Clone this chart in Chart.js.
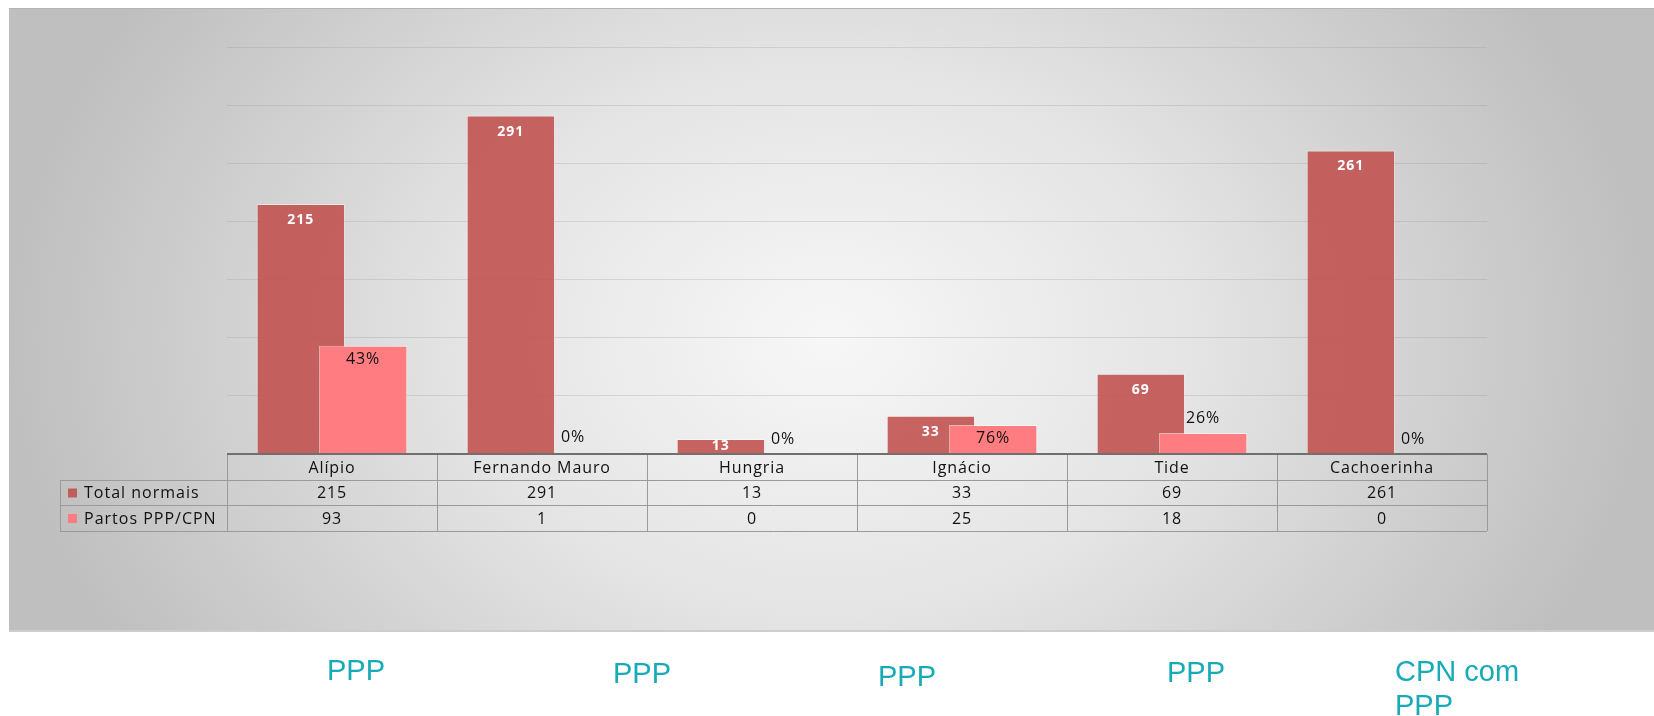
<!DOCTYPE html>
<html>
<head>
<meta charset="utf-8">
<script src="https://cdn.jsdelivr.net/npm/chart.js@4.4.0/dist/chart.umd.min.js"></script>
<style>
  html, body { margin: 0; padding: 0; background: #fff; }
  body { width: 1654px; height: 716px; position: relative; overflow: hidden; }
  #bg {
    position: absolute; left: 9px; top: 8px; width: 1645px; height: 621px;
    border-top: 1px solid #b4b4b4; border-bottom: 2px solid #cdcdcd;
    background: radial-gradient(ellipse 820px 620px at 820px 330px, #f7f7f7 0%, #e4e4e4 45%, #bfbfbf 100%);
  }
  #canvas { position: absolute; left: 0; top: 0; }
  .nota {
    position: absolute; font-family: "Liberation Sans", Arial, sans-serif;
    font-size: 29px; line-height: 34px; color: #17aab7; white-space: nowrap;
  }
</style>
</head>
<body>
<div id="bg"></div>
<canvas id="canvas" width="1654" height="716"></canvas>
<div class="nota" style="left:327px; top:653px;">PPP</div>
<div class="nota" style="left:613px; top:656px;">PPP</div>
<div class="nota" style="left:878px; top:659px;">PPP</div>
<div class="nota" style="left:1167px; top:655px;">PPP</div>
<div class="nota" style="left:1395px; top:654px;">CPN com<br>PPP</div>
<script>
// dados
const unidades = ['Alípio', 'Fernando Mauro', 'Hungria', 'Ignácio', 'Tide', 'Cachoerinha'];
const totalNormais = [215, 291, 13, 33, 69, 261];
const partosPPP = [93, 1, 0, 25, 18, 0];
const nomesSeries = ['Total normais', 'Partos PPP/CPN'];

const corEscura = 'rgba(192, 80, 77, 0.88)';
const corClara = '#ff7c80';
const fonte = '"Open Sans", Lato, sans-serif';

function pct(i) {
    if (!totalNormais[i]) return '0%';
    return Math.round(partosPPP[i] / totalNormais[i] * 100) + '%';
}

// desenha a barra escura primeiro e a rosa por cima
const ordemBarras = {
    id: 'ordemBarras',
    beforeDatasetsDraw(chart) {
        for (let i = 0; i < chart.data.datasets.length; i++) {
            chart.getDatasetMeta(i).controller.draw();
        }
        return false;
    }
};

const rotulos = {
    id: 'rotulos',
    afterDraw(chart) {
        const ctx = chart.ctx;
        ctx.save();
        ctx.textAlign = 'center';
        ctx.textBaseline = 'middle';
        // Total normais: branco, negrito, dentro da barra
        chart.getDatasetMeta(0).data.forEach((bar, i) => {
            const h = bar.base - bar.y;
            ctx.fillStyle = '#fff';
            ctx.font = 'bold 14px ' + fonte;
            ctx.letterSpacing = '1px';
            ctx.fillText(totalNormais[i], bar.x, bar.y + Math.min(16, h / 2));
        });
        // Partos: percentual
        chart.getDatasetMeta(1).data.forEach((bar, i) => {
            const h = bar.base - bar.y;
            ctx.fillStyle = '#111';
            ctx.font = '16px ' + fonte;
            ctx.letterSpacing = '0.9px';
            const y = h >= 24 ? bar.y + 14 : bar.y - 15;
            ctx.fillText(pct(i), bar.x, y);
        });
        ctx.restore();
    }
};

// tabela de dados abaixo do eixo
const tabela = {
    id: 'tabela',
    afterDraw(chart) {
        const ctx = chart.ctx;
        const xs = chart.scales.x;
        const area = chart.chartArea;
        const larg = (area.right - area.left) / unidades.length;
        const y0 = area.bottom, y1 = y0 + 26, y2 = y1 + 25, y3 = y2 + 26;
        const xl = 60;
        ctx.save();
        // linhas
        ctx.strokeStyle = '#9a9a9a';
        ctx.lineWidth = 1;
        ctx.beginPath();
        ctx.moveTo(area.left, y1 + 0.5); ctx.lineTo(area.right, y1 + 0.5);
        ctx.moveTo(xl, y1 + 0.5); ctx.lineTo(area.left, y1 + 0.5);
        ctx.moveTo(xl, y2 + 0.5); ctx.lineTo(area.right, y2 + 0.5);
        ctx.moveTo(xl, y3 + 0.5); ctx.lineTo(area.right, y3 + 0.5);
        ctx.moveTo(xl + 0.5, y1); ctx.lineTo(xl + 0.5, y3);
        for (let i = 0; i <= unidades.length; i++) {
            const x = Math.round(area.left + i * larg) + 0.5;
            ctx.moveTo(x, y0); ctx.lineTo(x, y3);
        }
        ctx.stroke();
        // eixo
        ctx.strokeStyle = '#6f6f6f';
        ctx.lineWidth = 2;
        ctx.beginPath();
        ctx.moveTo(area.left, y0); ctx.lineTo(area.right, y0);
        ctx.stroke();
        // textos
        ctx.fillStyle = '#111';
        ctx.font = '16px ' + fonte;
        ctx.letterSpacing = '0.9px';
        ctx.textAlign = 'center';
        ctx.textBaseline = 'middle';
        unidades.forEach((u, i) => {
            const x = xs.getPixelForValue(i);
            ctx.fillText(u, x, (y0 + y1) / 2 + 1);
            ctx.fillText(totalNormais[i], x, (y1 + y2) / 2 + 1);
            ctx.fillText(partosPPP[i], x, (y2 + y3) / 2 + 1);
        });
        // legenda
        ctx.textAlign = 'left';
        ctx.letterSpacing = '1px';
        const cores = [corEscura, corClara];
        nomesSeries.forEach((n, k) => {
            const yc = k === 0 ? (y1 + y2) / 2 : (y2 + y3) / 2;
            ctx.fillStyle = cores[k];
            ctx.fillRect(68, yc - 4, 9, 9);
            ctx.fillStyle = '#111';
            ctx.fillText(n, 84, yc + 1);
        });
        ctx.restore();
    }
};

const config = {
    type: 'bar',
    data: {
        labels: unidades,
        datasets: [{
            label: nomesSeries[0],
            data: totalNormais,
            backgroundColor: corEscura,
            borderColor: 'rgba(255,255,255,0.45)',
            borderWidth: 1,
            categoryPercentage: 0.593,
            barPercentage: 1.42
        }, {
            label: nomesSeries[1],
            data: partosPPP,
            backgroundColor: corClara,
            borderColor: 'rgba(255,255,255,0.55)',
            borderWidth: 1,
            categoryPercentage: 0.593,
            barPercentage: 1.42
        }]
    },
    options: {
        responsive: false,
        animation: false,
        layout: {
            padding: { left: 227, right: 167, top: 47, bottom: 262 }
        },
        scales: {
            x: {
                display: false
            },
            y: {
                min: 0,
                max: 350,
                ticks: { display: false, stepSize: 50 },
                border: { display: false },
                grid: { color: 'rgba(150,150,150,0.28)', drawTicks: false }
            }
        },
        plugins: {
            legend: { display: false },
            tooltip: { enabled: false }
        }
    },
    plugins: [ordemBarras, rotulos, tabela]
};

var ctx = document.getElementById('canvas').getContext('2d');
window.myChart = new Chart(ctx, config);
</script>
</body>
</html>
